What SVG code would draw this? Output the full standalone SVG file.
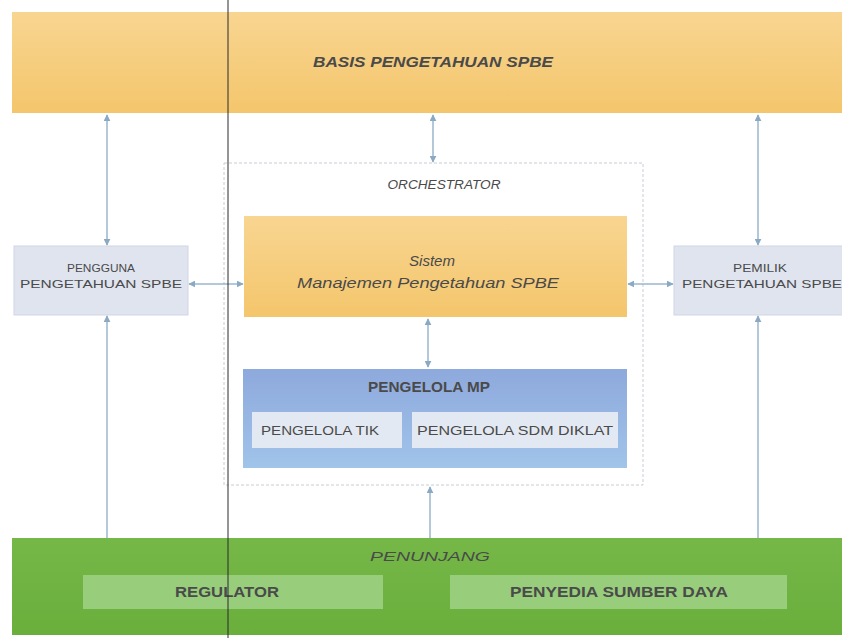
<svg xmlns="http://www.w3.org/2000/svg" width="842" height="638" viewBox="0 0 842 638">
<defs>
<linearGradient id="gOrange" x1="0" y1="0" x2="0" y2="1"><stop offset="0" stop-color="#f8d591"/><stop offset="1" stop-color="#f4c66c"/></linearGradient>
<linearGradient id="gBlue" x1="0" y1="0" x2="0" y2="1"><stop offset="0" stop-color="#8ea9dc"/><stop offset="1" stop-color="#a0c4ea"/></linearGradient>
<linearGradient id="gGreen" x1="0" y1="0" x2="0" y2="1"><stop offset="0" stop-color="#75b848"/><stop offset="1" stop-color="#6aae3c"/></linearGradient>
<marker id="ah" viewBox="0 0 10 10" refX="9" refY="5" markerWidth="7" markerHeight="7" orient="auto-start-reverse" markerUnits="userSpaceOnUse"><path d="M0,0 L10,5 L0,10 z" fill="#8aaac4"/></marker>
<style>
.t{font-family:"Liberation Sans",Arial,sans-serif;fill:#4a4a4a;text-anchor:middle}
.it{font-style:italic}
.b{font-weight:bold}
.conn{stroke:#9ab6cc;stroke-width:1.5;fill:none}
.node{fill:#dfe4ef;stroke:#cfd6e4;stroke-width:1}
.sub{fill:#e3e9f2}
.gsub{fill:#98cd7c}
</style>
</defs>
<rect width="842" height="638" fill="#ffffff"/>

<g id="basis">
<rect x="12" y="12" width="830" height="101" fill="url(#gOrange)"/>
<text class="t it b" x="433" y="67" font-size="14" textLength="240" lengthAdjust="spacingAndGlyphs" fill="#555">BASIS PENGETAHUAN SPBE</text>
</g>

<g id="orchestrator">
<rect x="224" y="163" width="419" height="322" fill="none" stroke="#c8cdd4" stroke-width="1" stroke-dasharray="3,2"/>
<text class="t it" x="444" y="189" font-size="13" textLength="113" lengthAdjust="spacingAndGlyphs" fill="#555">ORCHESTRATOR</text>
</g>

<g id="sistem">
<rect x="244" y="216" width="383" height="101" fill="url(#gOrange)"/>
<text class="t it" x="432" y="266" font-size="15" textLength="46" lengthAdjust="spacingAndGlyphs" fill="#5a5a5a">Sistem</text>
<text class="t it" x="428" y="288" font-size="14" textLength="262" lengthAdjust="spacingAndGlyphs" fill="#5a5a5a">Manajemen Pengetahuan SPBE</text>
</g>

<g id="pengelola-mp">
<rect x="243" y="369" width="384" height="99" fill="url(#gBlue)"/>
<text class="t b" x="429" y="392" font-size="14" textLength="122" lengthAdjust="spacingAndGlyphs" fill="#3e4450">PENGELOLA MP</text>
<g id="pengelola-tik">
<rect class="sub" x="252" y="412" width="150" height="36"/>
<text class="t" x="320" y="435" font-size="12" textLength="118" lengthAdjust="spacingAndGlyphs" fill="#555">PENGELOLA TIK</text>
</g>
<g id="pengelola-sdm">
<rect class="sub" x="412" y="412" width="206" height="36"/>
<text class="t" x="515" y="435" font-size="12" textLength="196" lengthAdjust="spacingAndGlyphs" fill="#555">PENGELOLA SDM DIKLAT</text>
</g>
</g>

<g id="pengguna">
<rect class="node" x="14" y="246" width="174" height="69"/>
<text class="t" x="101" y="272" font-size="11" textLength="68" lengthAdjust="spacingAndGlyphs" fill="#666">PENGGUNA</text>
<text class="t" x="101" y="288" font-size="11" textLength="162" lengthAdjust="spacingAndGlyphs" fill="#666">PENGETAHUAN  SPBE</text>
</g>

<g id="pemilik">
<rect class="node" x="674" y="246" width="172" height="69"/>
<text class="t" x="760" y="272" font-size="11" textLength="54" lengthAdjust="spacingAndGlyphs" fill="#666">PEMILIK</text>
<text class="t" x="762" y="288" font-size="11" textLength="160" lengthAdjust="spacingAndGlyphs" fill="#666">PENGETAHUAN  SPBE</text>
</g>

<g id="penunjang">
<rect x="12" y="538" width="830" height="97" fill="url(#gGreen)"/>
<text class="t it" x="430" y="561" font-size="12" textLength="120" lengthAdjust="spacingAndGlyphs" fill="#a9dc8e">PENUNJANG</text>
<g id="regulator">
<rect class="gsub" x="83" y="575" width="300" height="34"/>
<text class="t b" x="227" y="597" font-size="14" textLength="104" lengthAdjust="spacingAndGlyphs" fill="#4d5a48">REGULATOR</text>
</g>
<g id="penyedia">
<rect class="gsub" x="450" y="575" width="337" height="34"/>
<text class="t b" x="619" y="597" font-size="14" textLength="218" lengthAdjust="spacingAndGlyphs" fill="#4d5a48">PENYEDIA SUMBER DAYA</text>
</g>
</g>

<g id="connectors">
<line class="conn" x1="107" y1="115" x2="107" y2="245" marker-start="url(#ah)" marker-end="url(#ah)"/>
<line class="conn" x1="433" y1="115" x2="433" y2="162" marker-start="url(#ah)" marker-end="url(#ah)"/>
<line class="conn" x1="758" y1="115" x2="758" y2="245" marker-start="url(#ah)" marker-end="url(#ah)"/>
<line class="conn" x1="189" y1="284" x2="243" y2="284" marker-start="url(#ah)" marker-end="url(#ah)"/>
<line class="conn" x1="628" y1="284" x2="673" y2="284" marker-start="url(#ah)" marker-end="url(#ah)"/>
<line class="conn" x1="428" y1="319" x2="428" y2="367" marker-start="url(#ah)" marker-end="url(#ah)"/>
<line class="conn" x1="107" y1="538" x2="107" y2="316" marker-end="url(#ah)"/>
<line class="conn" x1="758" y1="538" x2="758" y2="316" marker-end="url(#ah)"/>
<line class="conn" x1="430" y1="538" x2="430" y2="487" marker-end="url(#ah)"/>
</g>

<line x1="228" y1="0" x2="228" y2="638" stroke="#2a2a2a" stroke-width="1"/>
</svg>
